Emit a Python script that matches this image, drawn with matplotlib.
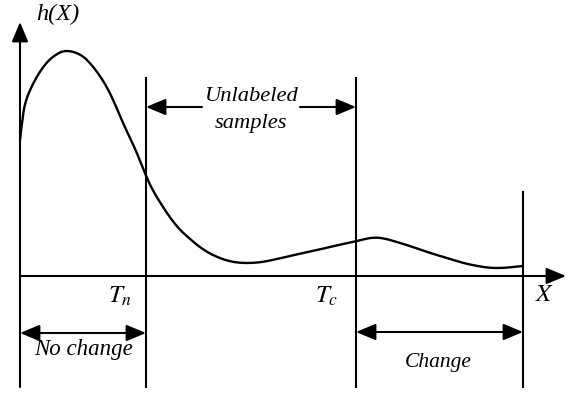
# Sketch of h(X) with the unlabeled window between T_n and T_c
import matplotlib.pyplot as plt
from matplotlib.path import Path
from matplotlib.patches import PathPatch

plt.rcParams['font.family'] = 'Liberation Serif'
plt.rcParams['mathtext.fontset'] = 'stix'

# curve h(X), traced in picture coordinates (y grows downward)
curve_x = [20, 23, 26, 30, 36, 43, 50, 57, 63, 70, 77, 84, 90, 98, 107, 115, 123,
           130, 137, 146, 153, 163, 171, 180, 189, 197, 207, 217, 228, 240, 252,
           263, 277, 290, 303, 317, 330, 343, 357, 365, 373, 383, 397, 413, 430,
           447, 463, 477, 490, 503, 513, 523]
curve_y = [140, 113, 100, 90, 78, 67, 59, 54, 51, 51, 53, 57, 63, 73, 87, 104, 123,
           138, 153, 176, 191, 207, 219, 230, 238, 245, 252, 257, 261, 263, 263,
           262, 259, 256, 253, 250, 247, 244, 241, 239, 237.5, 238, 242, 247, 253,
           258, 263, 266, 268, 268, 267, 266]

x0, x_n, x_c, x_end = 20, 146, 356, 523
axis_y = 276

fig = plt.figure(figsize=(5.7, 3.94), dpi=100)
ax = fig.add_axes([0, 0, 1, 1])
ax.set_xlim(0, 570)
ax.set_ylim(394, 0)
ax.axis('off')

lw = 1.5
k = dict(color='black', lw=lw)
arrow = dict(arrowstyle='-|>,head_length=0.6,head_width=0.25', color='black',
             lw=lw, mutation_scale=20, shrinkA=0, shrinkB=0)
arrow2 = dict(arrowstyle='<|-|>,head_length=0.6,head_width=0.25', color='black',
              lw=lw, mutation_scale=20, shrinkA=0, shrinkB=0)

# axes
ax.annotate('', xy=(x0, 22), xytext=(x0, 387), arrowprops=arrow)
ax.annotate('', xy=(566, axis_y), xytext=(x0, axis_y), arrowprops=arrow)

# vertical markers
ax.plot([x_n, x_n], [78, 387], **k)
ax.plot([x_c, x_c], [78, 387], **k)
ax.plot([x_end, x_end], [192, 387], **k)

# curve: smooth quadratic path, traced points as control points
pts = list(zip(curve_x, curve_y))
verts = [pts[0]]
codes = [Path.MOVETO]
for i in range(1, len(pts) - 1):
    mid = ((pts[i][0] + pts[i + 1][0]) / 2, (pts[i][1] + pts[i + 1][1]) / 2)
    if i == len(pts) - 2:
        mid = pts[-1]
    verts += [pts[i], mid]
    codes += [Path.CURVE3, Path.CURVE3]
ax.add_patch(PathPatch(Path(verts, codes), fill=False, edgecolor='black', lw=1.7))

# unlabeled samples
ax.annotate('', xy=(x_n, 107), xytext=(202, 107), arrowprops=arrow)
ax.annotate('', xy=(x_c, 107), xytext=(300, 107), arrowprops=arrow)
ax.text(252, 96, 'Unlabeled', style='italic', fontsize=16.2, ha='center', va='center')
ax.text(251, 123, 'samples', style='italic', fontsize=16.2, ha='center', va='center')

# no change / change
ax.annotate('', xy=(x0, 333), xytext=(x_n, 333), arrowprops=arrow2)
ax.text(84, 349, 'No change', style='italic', fontsize=16.5, ha='center', va='center')
ax.annotate('', xy=(x_c, 332), xytext=(x_end, 332), arrowprops=arrow2)
ax.text(438, 362, 'Change', style='italic', fontsize=15.5, ha='center', va='center')

# labels
ax.text(58, 14, 'h(X)', style='italic', fontsize=17.5, ha='center', va='center')
ax.text(120, 296, '$T_n$', fontsize=18, ha='center', va='center')
ax.text(327, 296, '$T_c$', fontsize=18, ha='center', va='center')
ax.text(545, 295, '$X$', fontsize=18, ha='center', va='center')

plt.savefig('out.png', dpi=100)
